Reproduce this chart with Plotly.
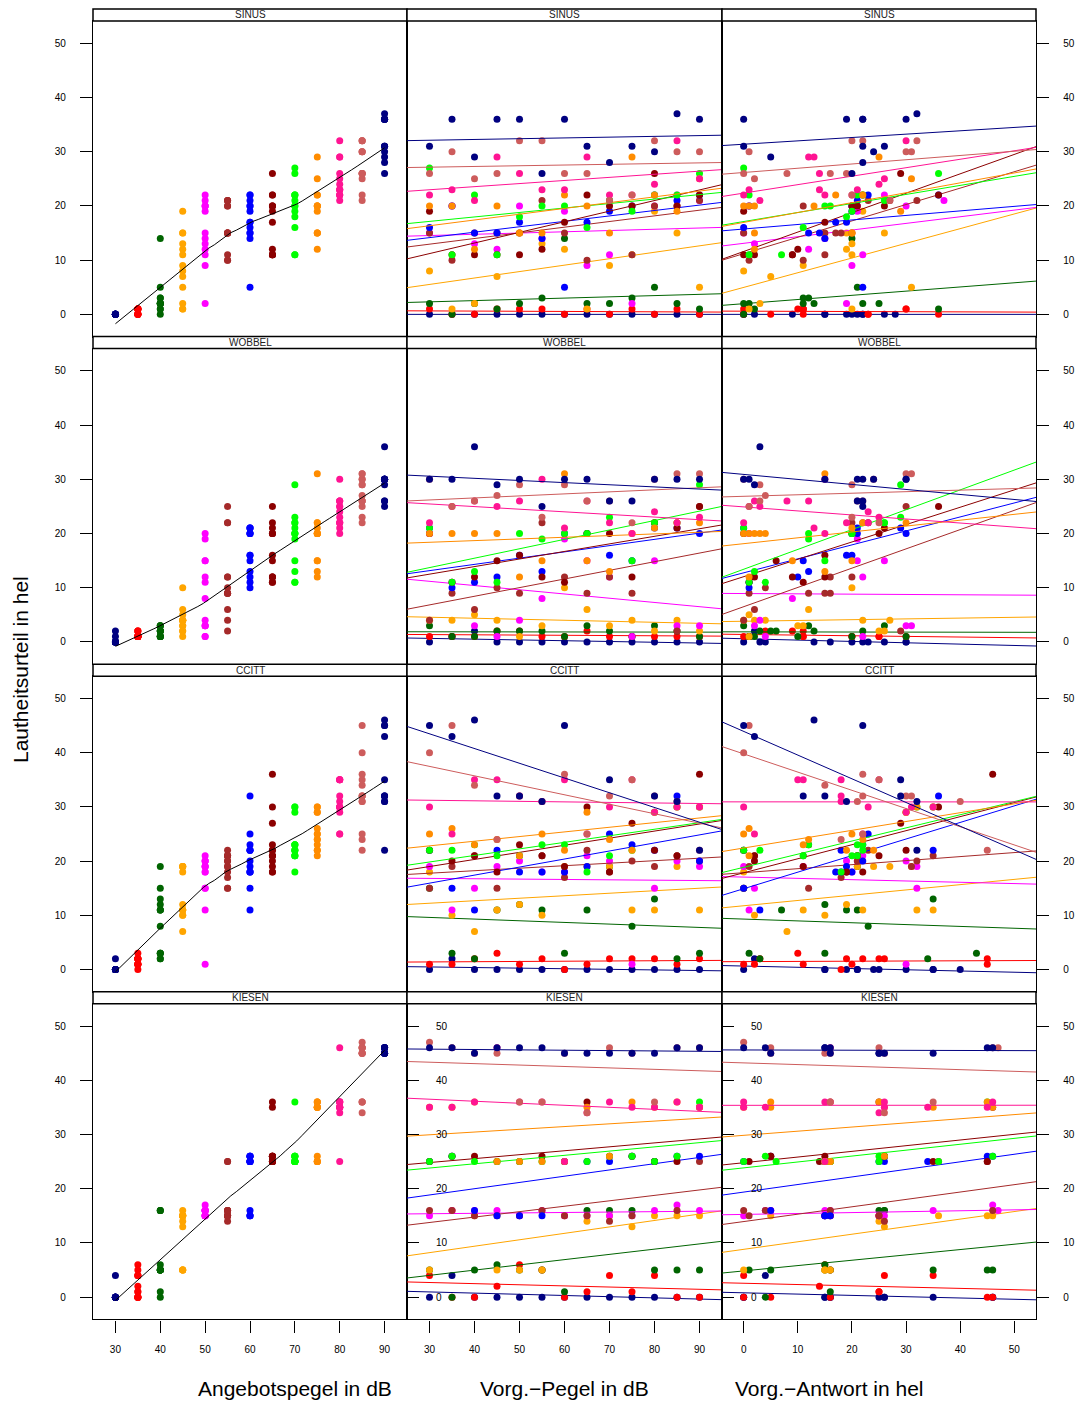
import numpy as np
import plotly.graph_objects as go

# ---------------- data ----------------
LEVELS = [30, 35, 40, 45, 50, 55, 60, 65, 70, 75, 80, 85, 90]
LEVEL_COLORS = ["#000080", "#FF0000", "#006400", "#FFA500", "#FF00FF", "#A52A2A",
                "#0000FF", "#8B0000", "#00FF00", "#FF8C00", "#FF1493", "#CD5C5C", "#000080"]
STIMULI = ["SINUS", "WOBBEL", "CCITT", "KIESEN"]
X_TICKS_DB = [30, 40, 50, 60, 70, 80, 90]
X_TICKS_HEL = [0, 10, 20, 30, 40, 50]
Y_TICKS = [0, 10, 20, 30, 40, 50]

# response (hel) per presented level; entries ordered by previous level 30..90
sinus_resp = {
    30: [0, 0, 0, 0, 0, 0, 0, 0, 0, 0, 0, 0, 0],
    35: [1, 0, 0, 1, 1, 1, 0, 1, 0, 1, 0, 1, 0],
    40: [2, 0, 2, 1, 2, 3, 14, 2, 2, 3, 5, 2, 1],
    45: [8, 1, 2, 7, 15, 13, 12, 1, 9, 11, 19, 15, 5],
    50: [15, 20, 13, 12, 20, 14, 19, 9, 11, 2, 20, 22, 21],
    55: [15, 10, 15, 15, 15, 21, 15, 10, 21, 11, 20, 20, 21],
    60: [16, 20, 15, 15, 17, 14, 5, 17, 19, 20, 22, 21, 22],
    65: [19, 11, 11, 11, 11, 12, 17, 22, 20, 20, 26, 20, 22],
    70: [27, 11, 22, 11, 18, 20, 20, 16, 21, 19, 22, 22, 26],
    75: [20, 20, 12, 20, 15, 15, 22, 20, 15, 29, 22, 19, 25],
    80: [22, 23, 21, 29, 26, 23, 23, 29, 22, 22, 24, 32, 25],
    85: [26, 30, 25, 26, 32, 32, 26, 26, 21, 22, 32, 30, 30],
    90: [31, 36, 29, 36, 36, 26, 36, 31, 28, 31, 30, 37, 36],
}
# previous response (hel), same ordering
sinus_prev = {
    30: [0, 0, 2, 9, 15, 19, 15, 20, 21, 22, 26, 28, 22],
    35: [0, 0, 5, 10, 11, 11, 11, 30, 23, 11, 23, 30, 36],
    40: [0, 0, 1, 2, 13, 12, 20, 11, 25, 11, 21, 22, 36],
    45: [0, 1, 3, 5, 19, 20, 19, 20, 11, 20, 22, 26, 31],
    50: [0, 1, 2, 12, 21, 15, 21, 20, 22, 19, 30, 26, 37],
    55: [0, 1, 17, 18, 20, 27, 15, 11, 23, 15, 11, 20, 32],
    60: [0, 1, 12, 14, 17, 15, 22, 19, 20, 20, 23, 21, 36],
    65: [0, 0, 2, 9, 9, 10, 15, 22, 21, 20, 29, 26, 36],
    70: [0, 1, 1, 7, 19, 15, 16, 11, 26, 20, 22, 21, 36],
    75: [0, 1, 2, 13, 2, 20, 17, 2, 20, 25, 22, 29, 31],
    80: [0, 1, 3, 12, 14, 14, 21, 13, 15, 20, 25, 30, 26],
    85: [0, 1, 2, 8, 20, 22, 16, 19, 27, 20, 32, 30, 31],
    90: [0, 0, 5, 19, 22, 20, 22, 22, 22, 26, 24, 32, 30],
}

wobbel_resp = {
    30: [0, 1, 2, 0, 0, 0, 0, 0, 0, 0, 0, 0, 0],
    35: [1, 1, 1, 2, 2, 1, 1, 2, 1, 1, 1, 1, 1],
    40: [3, 1, 1, 2, 2, 2, 1, 3, 2, 1, 3, 2, 1],
    45: [4, 4, 5, 4, 1, 3, 10, 6, 3, 4, 2, 4, 2],
    50: [20, 11, 3, 1, 4, 8, 19, 15, 12, 1, 15, 3, 3],
    55: [4, 9, 6, 10, 9, 22, 12, 9, 12, 9, 22, 2, 25],
    60: [21, 10, 11, 12, 16, 13, 20, 20, 16, 15, 21, 21, 20],
    65: [20, 11, 12, 15, 16, 12, 11, 20, 20, 12, 22, 21, 25],
    70: [21, 11, 13, 11, 20, 19, 20, 20, 23, 15, 22, 22, 29],
    75: [20, 20, 20, 20, 12, 15, 31, 15, 13, 20, 21, 22, 22],
    80: [22, 25, 26, 25, 26, 30, 21, 26, 22, 20, 24, 22, 23],
    85: [30, 25, 26, 27, 29, 23, 29, 26, 26, 22, 30, 31, 31],
    90: [30, 30, 36, 29, 30, 25, 30, 30, 26, 26, 30, 30, 30],
}
wobbel_prev = {
    30: [0, 1, 2, 3, 4, 13, 16, 20, 22, 23, 26, 30, 30],
    35: [0, 1, 1, 4, 9, 11, 11, 11, 20, 20, 25, 25, 30],
    40: [0, 1, 2, 3, 5, 6, 10, 12, 13, 20, 26, 22, 30],
    45: [0, 2, 1, 4, 1, 10, 20, 12, 11, 22, 25, 27, 26],
    50: [1, 1, 2, 4, 3, 9, 21, 21, 22, 22, 26, 30, 31],
    55: [0, 1, 2, 4, 12, 20, 16, 16, 20, 15, 22, 29, 30],
    60: [0, 1, 1, 10, 19, 12, 20, 21, 20, 11, 21, 29, 30],
    65: [0, 1, 2, 6, 15, 9, 11, 20, 25, 15, 23, 26, 36],
    70: [0, 1, 2, 4, 12, 12, 20, 20, 29, 15, 26, 26, 29],
    75: [0, 1, 2, 3, 1, 9, 15, 20, 15, 4, 20, 22, 30],
    80: [0, 3, 2, 1, 8, 15, 13, 12, 19, 15, 23, 23, 25],
    85: [0, 1, 3, 4, 3, 20, 20, 21, 22, 25, 24, 30, 31],
    90: [0, 1, 3, 2, 15, 22, 21, 22, 21, 22, 24, 30, 30],
}

ccitt_resp = {
    30: [0, 2, 0, 0, 0, 0, 0, 0, 0, 0, 0, 0, 0],
    35: [1, 1, 2, 3, 1, 2, 0, 1, 2, 2, 2, 1, 2],
    40: [15, 3, 2, 11, 12, 11, 3, 11, 19, 8, 13, 2, 3],
    45: [18, 10, 7, 11, 12, 10, 19, 19, 19, 11, 11, 19, 11],
    50: [19, 11, 15, 19, 20, 18, 18, 21, 20, 1, 15, 20, 19],
    55: [15, 19, 21, 15, 21, 21, 17, 22, 18, 20, 19, 21, 20],
    60: [22, 15, 11, 22, 18, 18, 18, 19, 25, 23, 22, 32, 20],
    65: [22, 20, 21, 18, 23, 21, 19, 30, 18, 27, 22, 21, 36],
    70: [22, 22, 23, 21, 21, 23, 23, 18, 21, 22, 29, 30, 30],
    75: [25, 26, 23, 24, 21, 25, 22, 29, 24, 22, 29, 30, 30],
    80: [30, 25, 35, 35, 32, 31, 35, 25, 30, 35, 29, 30, 30],
    85: [40, 45, 34, 24, 32, 31, 36, 25, 32, 35, 32, 31, 22],
    90: [45, 43, 46, 32, 32, 31, 45, None, 35, None, 32, 31, 22],
}
ccitt_prev = {
    30: [0, 2, 15, 15, 19, 21, 24, 25, 21, 30, 35, 40, 35],
    35: [0, 2, 3, 10, 11, 19, 18, 20, 22, 25, 26, 45, 45],
    40: [0, 1, 3, 7, 15, 21, 15, 19, 21, 23, 35, 34, 43],
    45: [0, 2, 8, 11, 19, 15, 21, 24, 27, 22, 35, 31, 32],
    50: [0, 1, 2, 11, 19, 20, 19, 22, 21, 30, 32, 30, 32],
    55: [0, 1, 2, 12, 11, 21, 18, 23, 19, 21, 31, 35, 32],
    60: [0, 0, 3, 18, 17, 20, 18, 19, 23, 22, 35, 36, 22],
    65: [0, 2, 2, 19, 12, 21, 11, 36, 22, 29, 30, 25, 46],
    70: [0, 3, 12, 11, 20, 21, 22, 18, 21, 22, 30, 32, 35],
    75: [0, 1, 11, 12, 1, 20, 19, 30, 22, 24, 30, 35, 32],
    80: [0, 2, 10, 11, 18, 18, 18, 22, 23, 25, 30, 31, 35],
    85: [0, 1, 15, 18, 22, 21, 22, 22, 30, 25, 31, 40, 45],
    90: [0, 2, 13, 11, 15, 19, 22, None, 29, None, 29, 32, 32],
}

kiesen_resp = {
    30: [0, 4, 0, 0, 0, 0, 0, 0, 0, 0, 0, 0, 0],
    35: [4, 0, 0, 2, 6, 5, 0, 1, 4, 1, 4, 0, 0],
    40: [5, 0, 5, 6, 5, 5, 1, 16, 16, 16, 5, 5, 5],
    45: [5, 16, 15, 5, 5, 5, 15, 14, 15, 13, 15, 15, 15],
    50: [15, 16, 16, 16, 15, 16, 15, 15, 15, 15, 16, 17, 16],
    55: [16, 16, 15, 15, 15, 16, 15, 15, 14, 15, 25, 16, 25],
    60: [25, 26, 16, 15, 15, 15, 25, 25, 25, 26, 25, 26, 26],
    65: [25, 26, 26, 25, 25, 26, 25, 36, 26, 26, 25, 25, 35],
    70: [25, 26, 25, 25, 25, 25, 25, 25, 26, 26, 25, 26, 36],
    75: [35, 35, 36, 25, 25, 25, 25, 35, 26, 36, 35, 36, 35],
    80: [35, 35, 36, 46, 36, 36, 25, 34, 36, 35, 35, 36, 35],
    85: [47, 46, 45, 45, 36, 36, 45, 34, 46, 45, 36, 46, 46],
    90: [46, 46, 45, 46, 46, 46, 45, 45, 45, 45, 45, 46, 46],
}
kiesen_prev = {
    30: [0, 4, 0, 15, 16, 15, 16, 25, 26, 26, 35, 46, 46],
    35: [0, 5, 0, 14, 15, 16, 16, 25, 26, 25, 35, 45, 46],
    40: [1, 4, 5, 15, 16, 15, 16, 26, 26, 25, 35, 46, 45],
    45: [0, 5, 5, 16, 15, 15, 16, 25, 25, 26, 36, 45, 46],
    50: [0, 4, 5, 16, 16, 15, 15, 26, 25, 25, 35, 46, 47],
    55: [0, 4, 1, 15, 16, 16, 15, 25, 26, 25, 36, 46, 45],
    60: [0, 5, 5, 15, 15, 16, 15, 26, 25, 26, 34, 45, 46],
    65: [1, 5, 5, 14, 15, 15, 16, 25, 26, 26, 35, 45, 46],
    70: [0, 4, 6, 15, 16, 16, 16, 25, 25, 26, 36, 46, 45],
    75: [0, 5, 5, 15, 16, 15, 16, 26, 26, 25, 35, 45, 46],
    80: [0, 4, 0, 16, 15, 16, 15, 25, 26, 26, 34, 46, 45],
    85: [0, 5, 5, 15, 16, 16, 16, 26, 25, 26, 35, 47, 46],
    90: [0, 4, 5, 15, 16, 15, 16, 25, 26, 25, 35, 46, 45],
}

RESP = {"SINUS": sinus_resp, "WOBBEL": wobbel_resp, "CCITT": ccitt_resp, "KIESEN": kiesen_resp}
PREV = {"SINUS": sinus_prev, "WOBBEL": wobbel_prev, "CCITT": ccitt_prev, "KIESEN": kiesen_prev}

# ---------------- geometry ----------------
W, H = 1083, 1405
COL_PX = [(93, 407), (407, 722), (722, 1036)]
STRIP_TOP0, PERIOD, STRIP_H = 9.0, 327.6, 12.0
Y_RANGE = [-4.1, 54.1]
X_RANGE_DB = [25.0, 95.0]
X_RANGE_HEL = [-4.0, 54.0]
FONT = "Liberation Sans, Arial, Helvetica, sans-serif"
TICKFONT = dict(size=10, family=FONT, color="black")
AXLW = 1.3


def row_px(r):
    st = STRIP_TOP0 + PERIOD * r
    return st, st + STRIP_H, st + PERIOD


def loess(x, y, xs, span=2 / 3, iters=4):
    x = np.asarray(x, float)
    y = np.asarray(y, float)
    n = len(x)
    q = int(np.floor(n * span))
    rob = np.ones(n)

    def fit_at(x0, rw):
        d = np.abs(x - x0)
        h = max(np.sort(d)[q - 1], 1e-9)
        u = d / h
        w = np.where(u < 1, (1 - u ** 3) ** 3, 0.0) * rw
        sw = w.sum()
        xm = (w * x).sum() / sw
        ym = (w * y).sum() / sw
        sxx = (w * (x - xm) ** 2).sum()
        b = (w * (x - xm) * (y - ym)).sum() / sxx if sxx > 0 else 0.0
        return ym + b * (x0 - xm)

    for _ in range(iters):
        fitted = np.array([fit_at(xi, rob) for xi in x])
        res = y - fitted
        s = np.median(np.abs(res))
        if s <= 0:
            break
        u = res / (6 * s)
        rob = np.where(np.abs(u) < 1, (1 - u ** 2) ** 2, 0.0)
    return np.array([fit_at(x0, rob) for x0 in xs])


fig = go.Figure()
layout = dict(
    width=W, height=H, margin=dict(l=0, r=0, t=0, b=0),
    paper_bgcolor="white", plot_bgcolor="white", showlegend=False,
    font=dict(family=FONT, color="black", size=10),
)
shapes, annotations = [], []

MS = 7
for r, stim in enumerate(STIMULI):
    st, pt, pb = row_px(r)
    resp = RESP[stim]
    prev = PREV[stim]
    for c in range(3):
        k = r * 3 + c + 1
        xa = f"x{k}" if k > 1 else "x"
        ya = f"y{k}" if k > 1 else "y"
        x0, x1 = COL_PX[c]
        xr = X_RANGE_HEL if c == 2 else X_RANGE_DB
        xaxis = dict(domain=[x0 / W, x1 / W], range=xr, anchor=ya,
                     showline=True, mirror=True, linecolor="black", linewidth=AXLW,
                     showgrid=False, zeroline=False, fixedrange=True)
        if r == 3:
            xaxis.update(ticks="outside", ticklen=12, tickwidth=1, tickcolor="black",
                         tickvals=X_TICKS_HEL if c == 2 else X_TICKS_DB,
                         showticklabels=True, ticklabelstandoff=8, tickfont=TICKFONT)
        else:
            xaxis.update(ticks="", showticklabels=False)
        yaxis = dict(domain=[(H - pb) / H, (H - pt) / H], range=Y_RANGE, anchor=xa,
                     showline=True, mirror=True, linecolor="black", linewidth=AXLW,
                     showgrid=False, zeroline=False, fixedrange=True)
        if c == 0:
            yaxis.update(side="left", ticks="outside", ticklen=12, tickwidth=1,
                         tickcolor="black", tickvals=Y_TICKS, showticklabels=True,
                         ticklabelstandoff=12, tickfont=TICKFONT)
        elif c == 2:
            yaxis.update(side="right", ticks="outside", ticklen=12, tickwidth=1,
                         tickcolor="black", tickvals=Y_TICKS, showticklabels=True,
                         ticklabelstandoff=12, tickfont=TICKFONT)
        elif r == 3:
            yaxis.update(side="left", ticks="inside", ticklen=12, tickwidth=1,
                         tickcolor="black", tickvals=Y_TICKS, showticklabels=False)
        else:
            yaxis.update(ticks="", showticklabels=False)
        layout["xaxis" if k == 1 else f"xaxis{k}"] = xaxis
        layout["yaxis" if k == 1 else f"yaxis{k}"] = yaxis

        # inner tick labels of the bottom-row middle/right panels
        if r == 3 and c > 0:
            for v in Y_TICKS:
                annotations.append(dict(x=27 / 315, xref=f"{xa} domain", y=v, yref=ya,
                                        text=str(v), showarrow=False, font=TICKFONT,
                                        xanchor="left", yanchor="middle"))

        # strip
        shapes.append(dict(type="rect", xref="paper", yref="paper",
                           x0=x0 / W, x1=x1 / W, y0=(H - pt) / H, y1=(H - st) / H,
                           line=dict(color="black", width=1.5), fillcolor="white",
                           layer="above"))
        annotations.append(dict(x=(x0 + x1) / 2 / W, y=(H - (st + pt) / 2) / H,
                                xref="paper", yref="paper", text=stim, showarrow=False,
                                font=dict(size=10, family=FONT, color="#222"),
                                xanchor="center", yanchor="middle"))

        # data
        all_x, all_y = [], []
        for li, lev in enumerate(LEVELS):
            ys = resp[lev]
            if c == 0:
                xs = [lev] * len(ys)
            elif c == 1:
                xs = LEVELS
            else:
                xs = prev[lev]
            pts = [(a, b) for a, b in zip(xs, ys) if a is not None and b is not None]
            px_ = [p[0] for p in pts]
            py_ = [p[1] for p in pts]
            all_x += px_
            all_y += py_
            col = LEVEL_COLORS[li]
            fig.add_trace(go.Scatter(x=px_, y=py_, mode="markers", xaxis=xa, yaxis=ya,
                                     marker=dict(size=MS, color=col, line=dict(width=0)),
                                     hoverinfo="skip"))
            if c > 0:
                b1, b0 = np.polyfit(np.array(px_, float), np.array(py_, float), 1)
                lx = np.array(xr)
                fig.add_trace(go.Scatter(x=lx, y=b0 + b1 * lx, mode="lines",
                                         xaxis=xa, yaxis=ya,
                                         line=dict(color=col, width=1),
                                         hoverinfo="skip"))
        if c == 0:
            gx = np.linspace(min(all_x), max(all_x), 50)
            gy = loess(all_x, all_y, gx)
            fig.add_trace(go.Scatter(x=gx, y=gy, mode="lines", xaxis=xa, yaxis=ya,
                                     line=dict(color="black", width=1),
                                     hoverinfo="skip"))

# inner-left ticks for the bottom-right panel (overlay axis, ticks only)
layout["yaxis13"] = dict(overlaying="y12", anchor="x12", side="left", range=Y_RANGE,
                         showline=False, showgrid=False, zeroline=False,
                         ticks="inside", ticklen=12, tickwidth=1, tickcolor="black",
                         tickvals=Y_TICKS, showticklabels=False, fixedrange=True)
fig.add_trace(go.Scatter(x=[None], y=[None], xaxis="x12", yaxis="y13",
                         mode="markers", hoverinfo="skip"))

# axis titles
annotations.append(dict(x=20 / W, y=(H - 670) / H, xref="paper", yref="paper",
                        text="Lautheitsurteil in hel", textangle=-90, showarrow=False,
                        font=dict(size=21, family=FONT, color="black"),
                        xanchor="center", yanchor="middle"))
for cx, txt in [(295, "Angebotspegel in dB"), (564, "Vorg.\u2212Pegel in dB"),
                (829, "Vorg.\u2212Antwort in hel")]:
    annotations.append(dict(x=cx / W, y=(H - 1388) / H, xref="paper", yref="paper",
                            text=txt, showarrow=False,
                            font=dict(size=21, family=FONT, color="black"),
                            xanchor="center", yanchor="middle"))

layout["shapes"] = shapes
layout["annotations"] = annotations
fig.update_layout(**layout)
fig.write_html("out.html")
